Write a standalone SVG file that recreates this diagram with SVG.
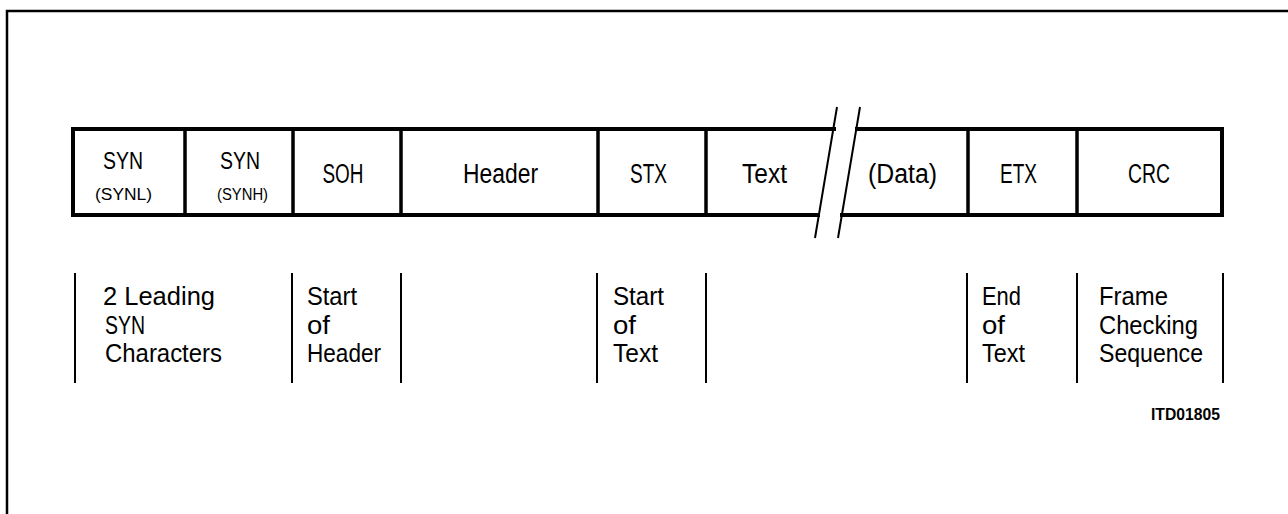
<svg xmlns="http://www.w3.org/2000/svg" width="1288" height="514" viewBox="0 0 1288 514">
<style>
.bg{fill:#fff}
.band{stroke:#000;stroke-width:4;fill:none;stroke-linecap:square}
.div{stroke:#000;stroke-width:3.5;fill:none}
.slash{stroke:#000;stroke-width:2;fill:none}
.tick{stroke:#000;stroke-width:2;fill:none}
.frame{stroke:#000;stroke-width:2.5;fill:none}
text{font-family:"Liberation Sans",Arial,sans-serif;fill:#000}
.lbl{font-size:27px;text-anchor:middle}
.syn{font-size:23px;text-anchor:middle}
.sub{font-size:16px;text-anchor:middle}
.desc{font-size:25px}
.id{font-size:17px;font-weight:bold}
</style>
<rect class="bg" x="0" y="0" width="1288" height="514"/>
<g id="frame">
<path class="frame" d="M7,514 V11 H1288"/>
</g>
<g id="band">
<path class="band" d="M834,129 H73 V215 H818"/>
<path class="band" d="M857,129 H1222 V215 H842"/>
<path class="div" d="M185,129 V215 M293,129 V215 M401,129 V215 M598,129 V215 M706,129 V215 M968,129 V215 M1077,129 V215"/>
<path class="slash" d="M837,107 L815,238 M860,107 L838,238"/>
</g>
<g id="field-syn1"><text class="syn" x="123" y="169" textLength="40" lengthAdjust="spacingAndGlyphs">SYN</text><text class="sub" x="123.5" y="200" textLength="57" lengthAdjust="spacingAndGlyphs">(SYNL)</text></g>
<g id="field-syn2"><text class="syn" x="240" y="169" textLength="40" lengthAdjust="spacingAndGlyphs">SYN</text><text class="sub" x="242.5" y="200" textLength="51" lengthAdjust="spacingAndGlyphs">(SYNH)</text></g>
<g id="field-soh"><text class="lbl" x="343" y="183" textLength="41" lengthAdjust="spacingAndGlyphs">SOH</text></g>
<g id="field-header"><text class="lbl" x="500.5" y="183" textLength="75" lengthAdjust="spacingAndGlyphs">Header</text></g>
<g id="field-stx"><text class="lbl" x="648.5" y="183" textLength="37" lengthAdjust="spacingAndGlyphs">STX</text></g>
<g id="field-text"><text class="lbl" x="764.5" y="183" textLength="45" lengthAdjust="spacingAndGlyphs">Text</text></g>
<g id="field-data"><text class="lbl" x="902.5" y="183" textLength="69" lengthAdjust="spacingAndGlyphs">(Data)</text></g>
<g id="field-etx"><text class="lbl" x="1018.5" y="183" textLength="37" lengthAdjust="spacingAndGlyphs">ETX</text></g>
<g id="field-crc"><text class="lbl" x="1149" y="183" textLength="42" lengthAdjust="spacingAndGlyphs">CRC</text></g>
<g id="connectors">
<path class="tick" d="M75,273 V383 M292,273 V383 M401,273 V383 M597,273 V383 M706,273 V383 M967,273 V383 M1077,273 V383 M1223,273 V383"/>
</g>
<g id="desc-syn">
<text class="desc" x="103" y="305" textLength="112" lengthAdjust="spacingAndGlyphs">2 Leading</text>
<text class="desc" x="105" y="334" textLength="40" lengthAdjust="spacingAndGlyphs">SYN</text>
<text class="desc" x="105" y="362" textLength="117" lengthAdjust="spacingAndGlyphs">Characters</text>
</g>
<g id="desc-soh">
<text class="desc" x="307" y="305" textLength="50" lengthAdjust="spacingAndGlyphs">Start</text>
<text class="desc" x="307" y="334" textLength="23" lengthAdjust="spacingAndGlyphs">of</text>
<text class="desc" x="307" y="362" textLength="74" lengthAdjust="spacingAndGlyphs">Header</text>
</g>
<g id="desc-stx">
<text class="desc" x="613" y="305" textLength="51" lengthAdjust="spacingAndGlyphs">Start</text>
<text class="desc" x="613" y="334" textLength="23" lengthAdjust="spacingAndGlyphs">of</text>
<text class="desc" x="613" y="362" textLength="45" lengthAdjust="spacingAndGlyphs">Text</text>
</g>
<g id="desc-etx">
<text class="desc" x="982" y="305" textLength="39" lengthAdjust="spacingAndGlyphs">End</text>
<text class="desc" x="982" y="334" textLength="23" lengthAdjust="spacingAndGlyphs">of</text>
<text class="desc" x="982" y="362" textLength="43" lengthAdjust="spacingAndGlyphs">Text</text>
</g>
<g id="desc-crc">
<text class="desc" x="1099" y="305" textLength="69" lengthAdjust="spacingAndGlyphs">Frame</text>
<text class="desc" x="1099" y="334" textLength="99" lengthAdjust="spacingAndGlyphs">Checking</text>
<text class="desc" x="1099" y="362" textLength="104" lengthAdjust="spacingAndGlyphs">Sequence</text>
</g>
<g id="figure-id">
<text class="id" x="1151" y="420" textLength="69" lengthAdjust="spacingAndGlyphs">ITD01805</text>
</g>
</svg>
